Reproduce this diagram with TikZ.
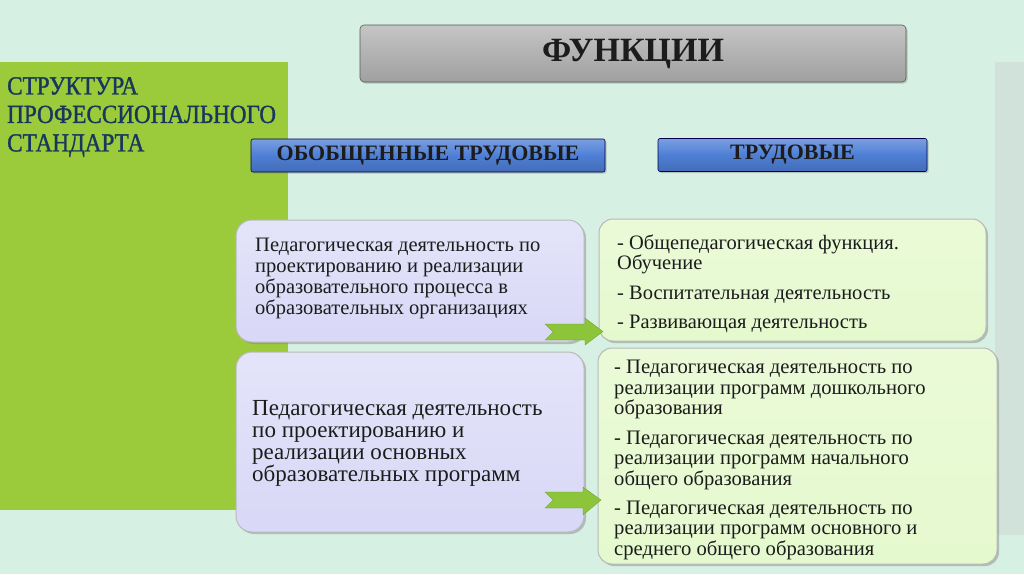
\documentclass[tikz,border=0pt]{standalone}
\usepackage{fontspec}
\setmainfont{Liberation Serif}
\newfontfamily\structfont{Liberation Serif}[FakeStretch=0.89,FakeBold=1.2]
\usetikzlibrary{shadows}
\definecolor{bg}{HTML}{D6F0E4}
\definecolor{lime}{HTML}{9BCB3B}
\definecolor{strip}{HTML}{D1E2DB}
\definecolor{greyfill}{HTML}{B2B2B2}
\definecolor{bluefill}{HTML}{4E7FD6}
\definecolor{lav}{HTML}{D8D8F7}
\definecolor{pale}{HTML}{E5F9CE}
\definecolor{navy}{HTML}{18375C}
\definecolor{ink}{HTML}{1C1C1C}
\definecolor{arrowgreen}{HTML}{8CC43A}
\tikzset{
  titlebox/.style={draw=gray!70!black, line width=0.6pt, top color=greyfill!75!white, bottom color=greyfill!90!black,
    middle color=greyfill, rounded corners=4pt,
    drop shadow={shadow xshift=1.5pt, shadow yshift=-1.5pt, opacity=0.4}},
  bluebox/.style={draw=blue!30!black, line width=0.6pt, top color=bluefill!75!white, bottom color=bluefill!85!black,
    middle color=bluefill, rounded corners=2pt,
    drop shadow={shadow xshift=1.5pt, shadow yshift=-1.5pt, opacity=0.4},
    text=ink, font=\fontsize{22}{26}\selectfont\bfseries},
  lavbox/.style={draw=gray!55, line width=1pt, top color=lav!70!white, bottom color=lav,
    rounded corners=16pt, drop shadow={shadow xshift=2pt, shadow yshift=-2pt, opacity=0.45}},
  palebox/.style={draw=gray!55, line width=1pt, top color=pale!80!white, bottom color=pale,
    rounded corners=14pt, drop shadow={shadow xshift=2pt, shadow yshift=-2pt, opacity=0.45}},
  boxtext/.style={anchor=north west, align=left, text=ink, inner sep=0pt},
  chevron/.style={fill=arrowgreen, draw=arrowgreen!80!black, line width=0.3pt}
}
\begin{document}
\begin{tikzpicture}[x=1pt,y=-1pt]
\useasboundingbox (0,0) rectangle (1024,574);
\fill[bg] (0,0) rectangle (1024,574);
\fill[lime] (0,62) rectangle (288,510);
\fill[strip] (995,62) rectangle (1024,535);

\node[anchor=north west, align=left, text=navy, inner sep=0pt,
  font=\structfont\fontsize{26}{28.5}\selectfont] (struct) at (7,77)
  {СТРУКТУРА\\ПРОФЕССИОНАЛЬНОГО\\СТАНДАРТА};

\node[titlebox, minimum width=546pt, minimum height=57pt, text=ink,
  font=\fontsize{34}{40}\selectfont\bfseries] (func) at (633,53.5) {ФУНКЦИИ};

\node[bluebox, minimum width=354pt, minimum height=33pt] (gen) at (428,155.5) {ОБОБЩЕННЫЕ ТРУДОВЫЕ};
\node[bluebox, minimum width=269pt, minimum height=33pt] (lab) at (792.5,155) {ТРУДОВЫЕ};

\path[lavbox] (236,220) rectangle (584,342);
\node[boxtext, font=\fontsize{20.5}{21}\selectfont] (l1t) at (255,238)
  {Педагогическая деятельность по\\проектированию и реализации\\образовательного процесса в\\образовательных организациях};

\path[lavbox] (236,352) rectangle (584,532);
\node[boxtext, font=\fontsize{23}{22}\selectfont] (l2t) at (252,400)
  {Педагогическая деятельность\\по проектированию и\\реализации основных\\образовательных программ};

\path[palebox] (599,219) rectangle (986,341);
\node[boxtext, font=\fontsize{20.5}{20}\selectfont] (r1t) at (617,235)
  {- Общепедагогическая функция.\\Обучение\\[10pt]- Воспитательная деятельность\\[9pt]- Развивающая деятельность};

\path[palebox] (598,348) rectangle (997,564);
\node[boxtext, font=\fontsize{20.6}{20.6}\selectfont] (r2t) at (614,360)
  {- Педагогическая деятельность по\\реализации программ дошкольного\\образования\\[8.5pt]- Педагогическая деятельность по\\реализации программ начального\\общего образования\\[8.5pt]- Педагогическая деятельность по\\реализации программ основного и\\среднего общего образования};

\draw[chevron] (545,324) -- (553,332) -- (545,340) -- (585,340) -- (585,345) -- (603,331.5) -- (585,318) -- (585,324) -- cycle;
\draw[chevron] (545,492) -- (553,500) -- (545,508) -- (583,508) -- (583,515) -- (601,500) -- (583,487) -- (583,492) -- cycle;
\end{tikzpicture}
\end{document}
